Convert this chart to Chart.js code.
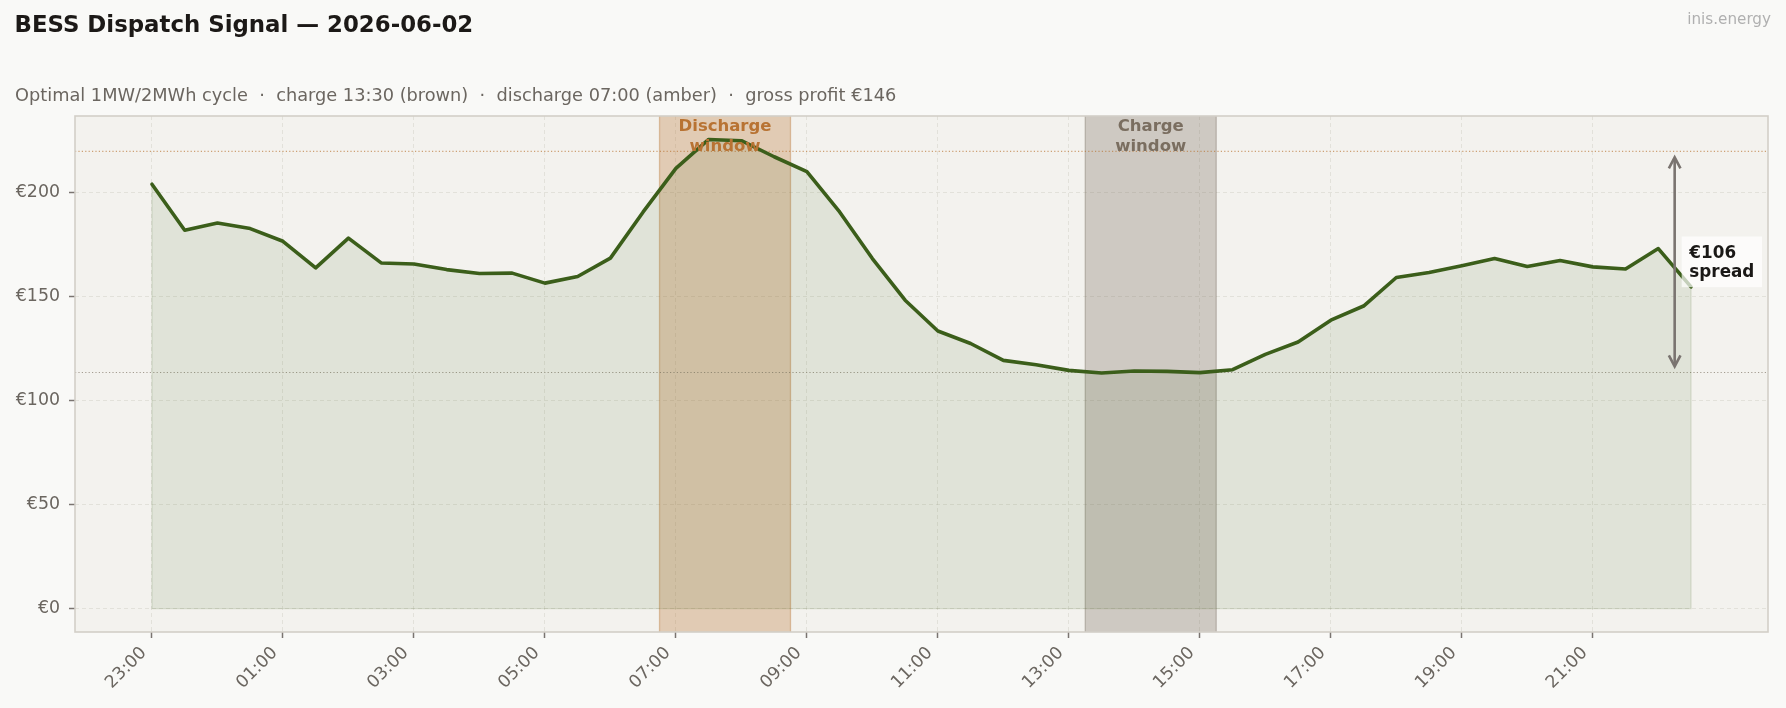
<!DOCTYPE html>
<html>
<head>
<meta charset="utf-8">
<script src="https://cdn.jsdelivr.net/npm/chart.js@4.4.1/dist/chart.umd.min.js"></script>
<style>
html,body{margin:0;padding:0;background:#f9f9f7;}
#wrap{position:relative;width:1786px;height:708px;overflow:hidden;font-family:'DejaVu Sans',sans-serif;}
#c{position:absolute;left:0;top:0;}
.t{position:absolute;line-height:1;white-space:pre;}
#title{left:14.5px;top:13px;font-size:22.85px;font-weight:bold;color:#1c1917;}
#subtitle{left:15px;top:86.5px;font-size:17.75px;color:#6b6660;}
#brand{right:15px;top:12.1px;font-size:15.2px;color:#b0b0b0;}
</style>
</head>
<body>
<div id="wrap">
<canvas id="c" width="1786" height="708"></canvas>
<div class="t" id="title">BESS Dispatch Signal — 2026-06-02</div>
<div class="t" id="subtitle">Optimal 1MW/2MWh cycle  ·  charge 13:30 (brown)  ·  discharge 07:00 (amber)  ·  gross profit €146</div>
<div class="t" id="brand">inis.energy</div>
</div>
<script>
// ---- data ----
const slotTimes = ['23:00','23:30','00:00','00:30','01:00','01:30','02:00','02:30','03:00','03:30','04:00','04:30',
  '05:00','05:30','06:00','06:30','07:00','07:30','08:00','08:30','09:00','09:30','10:00','10:30',
  '11:00','11:30','12:00','12:30','13:00','13:30','14:00','14:30','15:00','15:30','16:00','16:30',
  '17:00','17:30','18:00','18:30','19:00','19:30','20:00','20:30','21:00','21:30','22:00','22:30'];
const prices = [203.8,181.7,185.2,182.5,176.4,163.6,177.9,166.0,165.5,162.8,160.9,161.1,
  156.3,159.5,168.3,190.5,211.4,225.3,224.7,217.0,209.8,190.5,168.1,148.1,
  133.3,127.3,119.2,117.1,114.4,113.1,114.1,113.9,113.3,114.7,122.1,128.0,
  138.5,145.3,159.0,161.4,164.6,168.1,164.3,167.2,164.1,163.1,172.9,154.5];
const xTickLabels = ['23:00','01:00','03:00','05:00','07:00','09:00','11:00','13:00','15:00','17:00','19:00','21:00'];
const yTickValues = [0,50,100,150,200];
const dischargeSlots = ['07:00','07:30','08:00','08:30'];
const chargeSlots = ['13:30','14:00','14:30','15:00'];
const dischargeAvg = 219.6;
const chargeAvg = 113.4;
const dischargeLabel = ['Discharge','window'];
const chargeLabel = ['Charge','window'];
const spreadLabel = ['€106','spread'];

// ---- helpers ----
const hourOf = t => slotTimes.indexOf(t) * 0.5;
const points = slotTimes.map((t, i) => ({x: hourOf(t), y: prices[i]}));
const FONT = "'DejaVu Sans', sans-serif";
const GREEN = '#3b5e1a';
const AMBER = [184,115,51];
const BROWN = [122,110,96];
const rgba = (c, a) => `rgba(${c[0]},${c[1]},${c[2]},${a})`;

const decor = {
  id: 'decor',
  beforeDraw(chart) {
    const {ctx, chartArea: a} = chart;
    ctx.save();
    ctx.fillStyle = '#f3f2ee';
    ctx.fillRect(a.left, a.top, a.right - a.left, a.bottom - a.top);
    ctx.restore();
  },
  beforeDatasetsDraw(chart) {
    const {ctx, chartArea: a, scales: {x, y}} = chart;
    ctx.save();
    // windows
    [[dischargeSlots, AMBER], [chargeSlots, BROWN]].forEach(([slots, col]) => {
      const x0 = x.getPixelForValue(hourOf(slots[0]) - 0.25);
      const x1 = x.getPixelForValue(hourOf(slots[slots.length - 1]) + 0.25);
      ctx.fillStyle = rgba(col, 0.31);
      ctx.fillRect(x0, a.top, x1 - x0, a.bottom - a.top);
      ctx.strokeStyle = rgba(col, 0.38);
      ctx.lineWidth = 1.3;
      ctx.beginPath();
      ctx.moveTo(x0, a.top); ctx.lineTo(x0, a.bottom);
      ctx.moveTo(x1, a.top); ctx.lineTo(x1, a.bottom);
      ctx.stroke();
    });
    // reference dotted lines
    [[dischargeAvg, rgba(AMBER, 0.65)], [chargeAvg, rgba(BROWN, 0.65)]].forEach(([v, c]) => {
      const py = y.getPixelForValue(v);
      ctx.strokeStyle = c;
      ctx.lineWidth = 1.1;
      ctx.setLineDash([1.2, 2.2]);
      ctx.beginPath();
      ctx.moveTo(a.left, py); ctx.lineTo(a.right, py);
      ctx.stroke();
    });
    ctx.setLineDash([]);
    // fill edges
    const first = points[0], last = points[points.length - 1];
    const y0 = y.getPixelForValue(0);
    ctx.strokeStyle = 'rgba(59,94,26,0.13)';
    ctx.lineWidth = 1.3;
    ctx.beginPath();
    ctx.moveTo(x.getPixelForValue(first.x), y.getPixelForValue(first.y));
    ctx.lineTo(x.getPixelForValue(first.x), y0);
    ctx.lineTo(x.getPixelForValue(last.x), y0);
    ctx.lineTo(x.getPixelForValue(last.x), y.getPixelForValue(last.y));
    ctx.stroke();
    ctx.restore();
  },
  afterDatasetsDraw(chart) {
    const {ctx, chartArea: a, scales: {x, y}} = chart;
    ctx.save();
    // window labels
    ctx.font = `bold 16.5px ${FONT}`;
    ctx.textAlign = 'center';
    ctx.textBaseline = 'alphabetic';
    [[dischargeSlots, dischargeLabel, AMBER], [chargeSlots, chargeLabel, BROWN]].forEach(([slots, lab, col]) => {
      const cx = x.getPixelForValue((hourOf(slots[0]) + hourOf(slots[slots.length - 1])) / 2);
      ctx.fillStyle = rgba(col, 1);
      ctx.fillText(lab[0], cx, a.top + 15);
      ctx.fillText(lab[1], cx, a.top + 34.7);
    });
    // spread arrow
    const ax = x.getPixelForValue(hourOf(slotTimes[slotTimes.length - 1]) - 0.25);
    const yt = y.getPixelForValue(dischargeAvg) + 6;
    const yb = y.getPixelForValue(chargeAvg) - 6;
    ctx.strokeStyle = '#7a7470';
    ctx.lineWidth = 2.6;
    ctx.lineCap = 'butt';
    ctx.beginPath();
    ctx.moveTo(ax, yt + 1); ctx.lineTo(ax, yb - 1);
    ctx.stroke();
    ctx.lineJoin = 'miter';
    ctx.beginPath();
    ctx.moveTo(ax - 5.8, yt + 11); ctx.lineTo(ax, yt); ctx.lineTo(ax + 5.8, yt + 11);
    ctx.moveTo(ax - 5.8, yb - 11); ctx.lineTo(ax, yb); ctx.lineTo(ax + 5.8, yb - 11);
    ctx.stroke();
    // spread label
    const ym = y.getPixelForValue((dischargeAvg + chargeAvg) / 2);
    ctx.fillStyle = 'rgba(255,255,255,0.7)';
    ctx.fillRect(ax + 7, ym - 25.4, 80.4, 50.7);
    ctx.fillStyle = '#1a1816';
    ctx.font = `bold 16.8px ${FONT}`;
    ctx.textAlign = 'left';
    ctx.fillText(spreadLabel[0], ax + 14.7, ym - 4.1);
    ctx.fillText(spreadLabel[1], ax + 14.7, ym + 15.3);
    // frame
    ctx.strokeStyle = '#d3cfc7';
    ctx.lineWidth = 1.6;
    ctx.strokeRect(a.left, a.top, a.right - a.left, a.bottom - a.top);
    ctx.restore();
  }
};

new Chart(document.getElementById('c'), {
  type: 'line',
  data: {
    datasets: [{
      data: points,
      borderColor: GREEN,
      borderWidth: 3.6,
      borderJoinStyle: 'round',
      borderCapStyle: 'round',
      backgroundColor: 'rgba(59,94,26,0.1)',
      fill: 'origin',
      pointRadius: 0,
      tension: 0
    }]
  },
  options: {
    responsive: false,
    devicePixelRatio: 1,
    animation: false,
    events: [],
    layout: {padding: {top: 116, right: 18, left: 0, bottom: 0}},
    plugins: {legend: {display: false}, tooltip: {enabled: false}, title: {display: false}},
    scales: {
      x: {
        type: 'linear',
        min: -1.175,
        max: 24.675,
        afterFit: s => { s.height = 76; },
        afterBuildTicks: s => { s.ticks = xTickLabels.map(l => ({value: hourOf(l)})); },
        grid: {color: 'rgba(170,165,150,0.22)', lineWidth: 1, tickColor: '#7a7470', tickLength: 6, tickWidth: 1.5, tickBorderDash: []},
        border: {display: false, dash: [4, 3]},
        ticks: {
          autoSkip: false, maxRotation: 45, minRotation: 45,
          padding: 5, labelOffset: -8,
          color: '#6b6660', font: {family: FONT, size: 17.36},
          callback: v => slotTimes[Math.round(v * 2)]
        }
      },
      y: {
        type: 'linear',
        min: -11.27,
        max: 236.57,
        afterFit: s => { s.width = 75; },
        afterBuildTicks: s => { s.ticks = yTickValues.map(v => ({value: v})); },
        grid: {color: 'rgba(170,165,150,0.22)', lineWidth: 1, tickColor: '#7a7470', tickLength: 6, tickWidth: 1.5, tickBorderDash: []},
        border: {display: false, dash: [4, 3]},
        ticks: {
          padding: 9,
          color: '#6b6660', font: {family: FONT, size: 17.36},
          callback: v => '€' + v
        }
      }
    }
  },
  plugins: [decor]
});
</script>
</body>
</html>
